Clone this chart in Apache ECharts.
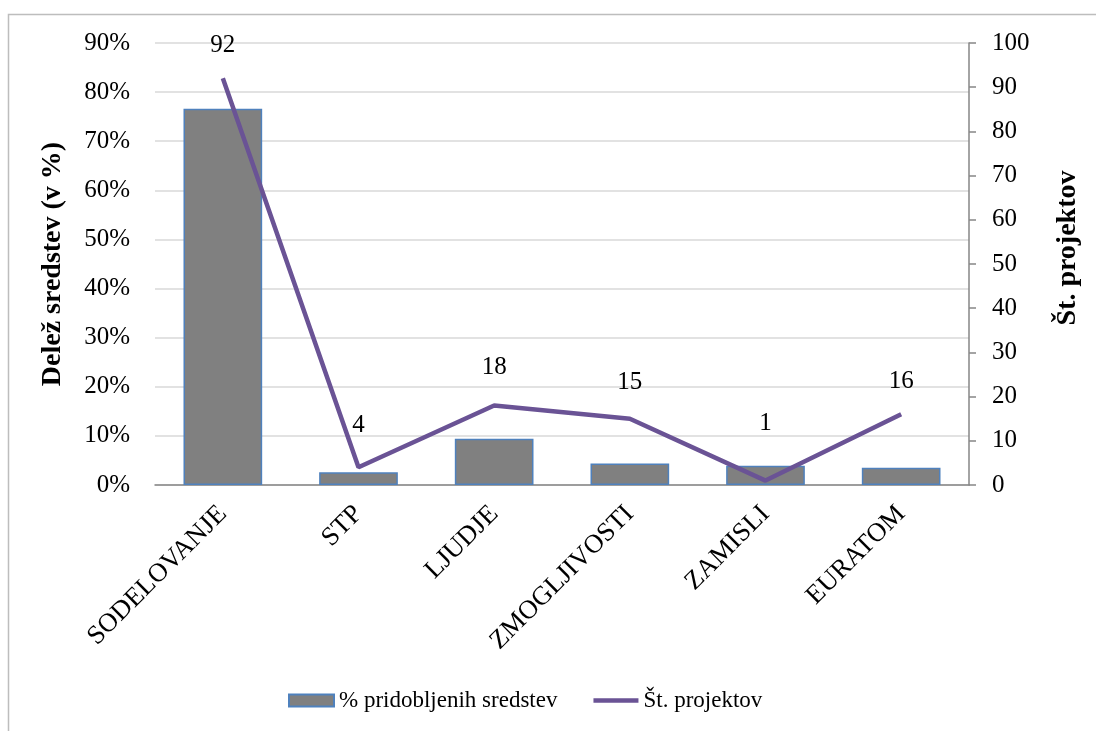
<!DOCTYPE html>
<html>
<head>
<meta charset="utf-8">
<script src="https://cdn.jsdelivr.net/npm/echarts@6/dist/echarts.min.js"></script>
<style>
  html, body { margin: 0; padding: 0; background: #fff; }
  #chart { width: 1096px; height: 731px; }
</style>
</head>
<body>
<div id="chart"></div>
<script>
// Programme categories
const categories = ['SODELOVANJE', 'STP', 'LJUDJE', 'ZMOGLJIVOSTI', 'ZAMISLI', 'EURATOM'];
// Share of obtained funds (fraction)
const shareFunds = [0.766, 0.026, 0.094, 0.044, 0.039, 0.035];
// Number of projects
const projectCounts = [92, 4, 18, 15, 1, 16];

// Gap between each project-count label and its point
const labelGaps = [20, 29, 25, 24, 45, 20];

const serif = '"Liberation Serif", "Times New Roman", serif';
const purple = '#6a5395';

const chart = echarts.init(document.getElementById('chart'), null, { renderer: 'canvas' });

chart.setOption({
  backgroundColor: '#ffffff',
  animation: false,
  textStyle: { fontFamily: serif, color: '#000' },
  graphic: [{
    type: 'rect',
    shape: { x: 8.5, y: 14.5, width: 1200, height: 900 },
    style: { fill: 'none', stroke: '#bdbdbd', lineWidth: 1.5 },
    silent: true
  }],
  grid: { left: 155, right: 127, top: 43, bottom: 246, containLabel: false },
  legend: {
    left: 283,
    top: 684,
    itemWidth: 45,
    itemHeight: 12,
    itemGap: 36,
    textStyle: { fontFamily: serif, fontSize: 23, color: '#000' },
    data: [
      { name: '% pridobljenih sredstev', icon: 'rect' },
      // plain stroke swatch for the line series
      { name: 'Št. projektov', icon: 'path://M0,0L45,0L45,4.5L0,4.5Z' }
    ]
  },
  xAxis: {
    type: 'category',
    data: categories,
    boundaryGap: true,
    axisLine: { show: true, lineStyle: { color: '#868686', width: 1.5 } },
    axisTick: { show: false },
    axisLabel: {
      rotate: 45,
      interval: 0,
      margin: 25,
      fontFamily: serif,
      fontSize: 26.5,
      color: '#000'
    }
  },
  yAxis: [
    {
      type: 'value',
      min: 0,
      max: 0.9,
      interval: 0.1,
      name: 'Delež sredstev (v %)',
      nameLocation: 'middle',
      nameRotate: 90,
      nameGap: 88,
      nameTextStyle: { fontFamily: serif, fontSize: 28, fontWeight: 'bold', color: '#000' },
      axisLine: { show: false },
      axisTick: { show: false },
      axisLabel: {
        fontFamily: serif,
        fontSize: 25,
        color: '#000',
        margin: 25,
        formatter: v => Math.round(v * 100) + '%'
      },
      splitLine: { show: true, lineStyle: { color: '#d9d9d9', width: 1.5 } }
    },
    {
      type: 'value',
      min: 0,
      max: 100,
      interval: 10,
      position: 'right',
      name: 'Št. projektov',
      nameLocation: 'middle',
      nameRotate: 90,
      nameGap: 85,
      nameTextStyle: { fontFamily: serif, fontSize: 28, fontWeight: 'bold', color: '#000', padding: [0, 0, 0, 32] },
      axisLine: { show: true, lineStyle: { color: '#868686', width: 1.5 } },
      axisTick: { show: true, inside: false, length: 7, lineStyle: { color: '#868686', width: 1.5 } },
      axisLabel: { fontFamily: serif, fontSize: 25, color: '#000', margin: 23 },
      splitLine: { show: false }
    }
  ],
  series: [
    {
      name: '% pridobljenih sredstev',
      type: 'bar',
      yAxisIndex: 0,
      data: shareFunds,
      barWidth: '58%',
      itemStyle: { color: '#808080', borderColor: '#4f81bd', borderWidth: 1.5 }
    },
    {
      name: 'Št. projektov',
      type: 'line',
      yAxisIndex: 1,
      data: projectCounts.map((v, i) => ({
        value: v,
        label: { distance: labelGaps[i] }
      })),
      // invisible markers so each point can carry its value label
      symbol: 'circle',
      symbolSize: 0.01,
      showSymbol: true,
      lineStyle: { color: purple, width: 4.5 },
      itemStyle: { color: purple },
      label: {
        show: true,
        position: 'top',
        fontFamily: serif,
        fontSize: 25,
        color: '#000'
      }
    }
  ]
});
</script>
</body>
</html>
